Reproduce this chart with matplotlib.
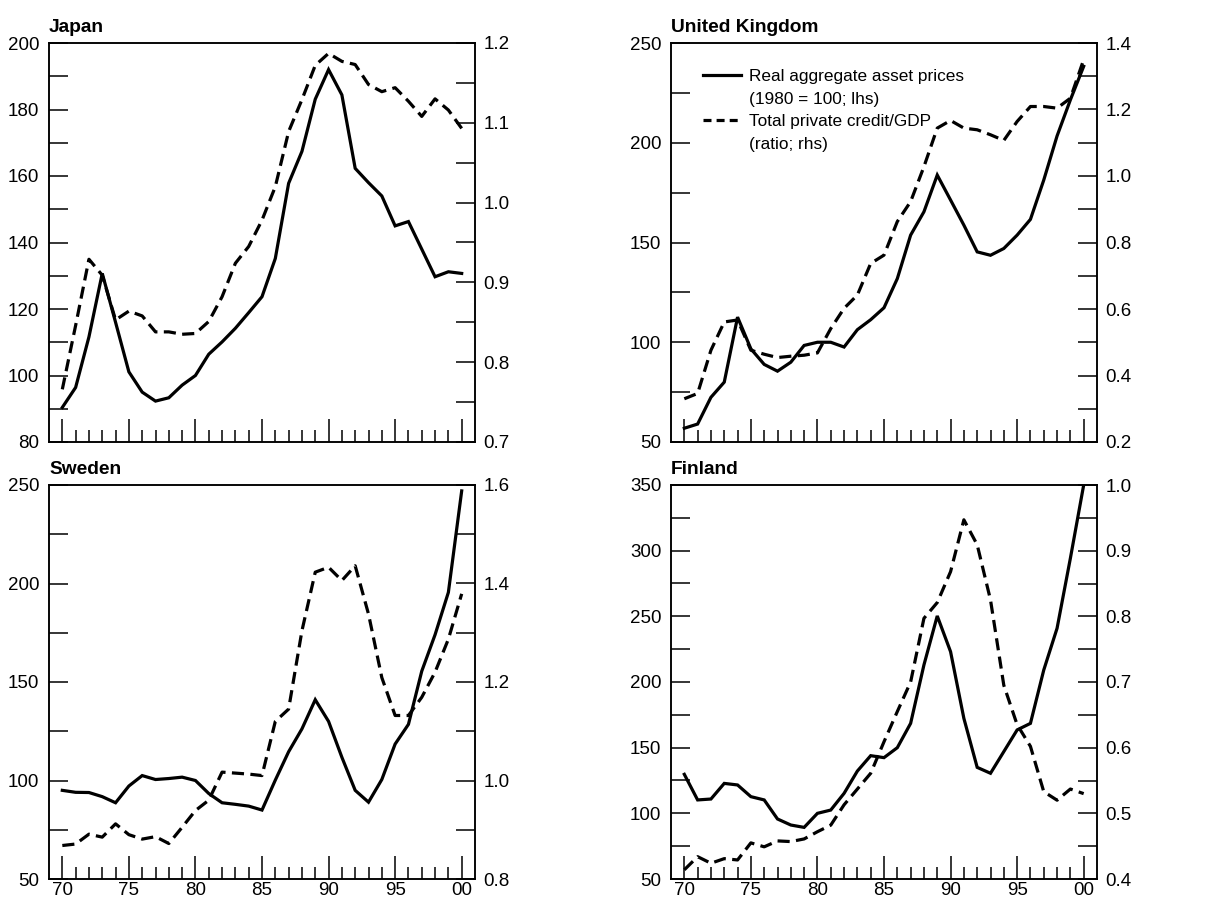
import numpy as np
import matplotlib
matplotlib.use('Agg')
import matplotlib.pyplot as plt
from matplotlib.lines import Line2D
from matplotlib.ticker import MultipleLocator

plt.rcParams['font.family'] = ['Liberation Sans', 'DejaVu Sans']

years = list(range(1970, 2001))
year_ticks = [1970, 1975, 1980, 1985, 1990, 1995, 2000]
year_labels = ['70', '75', '80', '85', '90', '95', '00']

# real aggregate asset prices (1980 = 100), lhs
japan_assets = [90.4, 96.4, 111.6, 130.7, 116, 101.1, 95.0, 92.3, 93.3, 97.1,
                100, 106.4, 110.1, 114.2, 118.9, 123.7, 135.2, 157.8, 167.4, 183.1,
                192.0, 184.4, 162.3, 158.0, 154.0, 145.0, 146.3, 138.0, 129.7, 131.2, 130.7]
uk_assets = [56.9, 59.0, 72.4, 80.0, 112.6, 96.7, 88.9, 85.5, 90.0, 98.4,
             100, 100, 97.6, 106.3, 111.3, 117.3, 131.9, 153.7, 165.4, 183.8,
             171.3, 158.7, 145.3, 143.6, 147.0, 153.7, 161.6, 181.3, 203.4, 221.5, 238.3]
sweden_assets = [95, 94, 93.9, 91.8, 88.7, 97.2, 102.5, 100.5, 101, 101.7,
                 100, 93.4, 88.7, 87.9, 87.0, 85.0, 100.2, 114.6, 126.2, 141,
                 130, 111.8, 95.0, 89.0, 100.5, 118.5, 128.5, 155.5, 174, 195.5, 247]
finland_assets = [129.7, 110.2, 110.9, 122.8, 121.6, 112.7, 110.2, 95.7, 91.1, 89.3,
                  100, 102.5, 115.2, 132.2, 143.9, 142.4, 150, 168.5, 213, 250.3,
                  223.1, 172.3, 135, 130.5, 147, 163.5, 168.5, 209.1, 240.9, 294.2, 350]

# total private credit/GDP (ratio), rhs
japan_credit = [0.766, 0.846, 0.929, 0.909, 0.853, 0.864, 0.858, 0.838, 0.838, 0.835,
                0.836, 0.851, 0.882, 0.924, 0.945, 0.978, 1.020, 1.089, 1.129, 1.172,
                1.187, 1.177, 1.173, 1.148, 1.139, 1.144, 1.127, 1.108, 1.130, 1.116, 1.093]
uk_credit = [0.330, 0.346, 0.476, 0.561, 0.567, 0.476, 0.464, 0.454, 0.458, 0.461,
             0.468, 0.541, 0.602, 0.642, 0.737, 0.762, 0.863, 0.923, 1.028, 1.144,
             1.167, 1.144, 1.139, 1.124, 1.107, 1.164, 1.209, 1.209, 1.204, 1.234, 1.350]
sweden_credit = [0.868, 0.871, 0.891, 0.885, 0.912, 0.890, 0.881, 0.886, 0.872, 0.905,
                 0.939, 0.960, 1.017, 1.015, 1.013, 1.010, 1.120, 1.145, 1.304, 1.423,
                 1.433, 1.406, 1.436, 1.338, 1.209, 1.132, 1.132, 1.169, 1.220, 1.287, 1.379]
finland_credit = [0.414, 0.434, 0.424, 0.431, 0.429, 0.455, 0.449, 0.458, 0.457, 0.461,
                  0.472, 0.482, 0.513, 0.537, 0.561, 0.609, 0.655, 0.700, 0.797, 0.821,
                  0.868, 0.947, 0.909, 0.825, 0.695, 0.635, 0.602, 0.533, 0.520, 0.537, 0.530]

fig = plt.figure(figsize=(12.22, 9.02), dpi=100)

W = 426 / 1222
panels = [
    ('Japan', japan_assets, japan_credit, (80, 200), 20, (0.7, 1.2), 0.1,
     [49 / 1222, 1 - 442 / 902, W, 399 / 902], False),
    ('United Kingdom', uk_assets, uk_credit, (50, 250), 50, (0.2, 1.4), 0.2,
     [671 / 1222, 1 - 442 / 902, W, 399 / 902], False),
    ('Sweden', sweden_assets, sweden_credit, (50, 250), 50, (0.8, 1.6), 0.2,
     [49 / 1222, 1 - 879 / 902, W, 394 / 902], True),
    ('Finland', finland_assets, finland_credit, (50, 350), 50, (0.4, 1.0), 0.1,
     [671 / 1222, 1 - 879 / 902, W, 394 / 902], True),
]

lw = 2.3
dash = (3.8, 2.0)
fs = 13.5
axes = []
for title, assets, credit, ylim_l, step_l, ylim_r, step_r, pos, show_x in panels:
    ax = fig.add_axes(pos)
    ax2 = ax.twinx()
    ax.plot(years, assets, color='black', lw=lw, solid_joinstyle='miter')
    ax2.plot(years, credit, color='black', lw=lw, linestyle=(0, dash))

    ax.set_xlim(1969, 2001)
    ax.set_ylim(*ylim_l)
    ax2.set_ylim(*ylim_r)

    ax.yaxis.set_major_locator(MultipleLocator(step_l))
    ax.yaxis.set_minor_locator(MultipleLocator(step_l / 2))
    ax2.yaxis.set_major_locator(MultipleLocator(step_r))
    ax2.yaxis.set_minor_locator(MultipleLocator(step_r / 2))
    ax2.yaxis.set_major_formatter(lambda v, p: f'{v:.1f}')

    ax.set_xticks(year_ticks)
    ax.set_xticks(years, minor=True)
    if show_x:
        ax.set_xticklabels(year_labels)
    else:
        ax.set_xticklabels([])

    ax.tick_params(axis='y', which='both', direction='in', length=13.5, width=1.1,
                   labelsize=fs, pad=7)
    ax2.tick_params(axis='y', which='both', direction='in', length=13.5, width=1.1,
                    labelsize=fs, pad=6)
    ax.tick_params(axis='x', which='major', direction='in', length=16.5, width=1.1,
                   labelsize=fs, pad=2)
    ax.tick_params(axis='x', which='minor', direction='in', length=8.5, width=1.1)

    for a in (ax, ax2):
        for s in a.spines.values():
            s.set_linewidth(1.1)

    ax.set_title(title, loc='left', fontsize=13.8, fontweight='bold', pad=8)
    axes.append(ax)

handles = [
    Line2D([], [], color='black', lw=lw),
    Line2D([], [], color='none'),
    Line2D([], [], color='black', lw=lw, linestyle=(0, (2.5, 1.6))),
    Line2D([], [], color='none'),
]
labels = ['Real aggregate asset prices', '(1980 = 100; lhs)',
          'Total private credit/GDP', '(ratio; rhs)']
axes[1].legend(handles, labels, loc='upper left', bbox_to_anchor=(0.075, 0.935),
               frameon=False, fontsize=12.4, handlelength=2.2, handletextpad=0.5,
               labelspacing=0.44, borderpad=0, borderaxespad=0)

fig.savefig('out.png', dpi=100)
